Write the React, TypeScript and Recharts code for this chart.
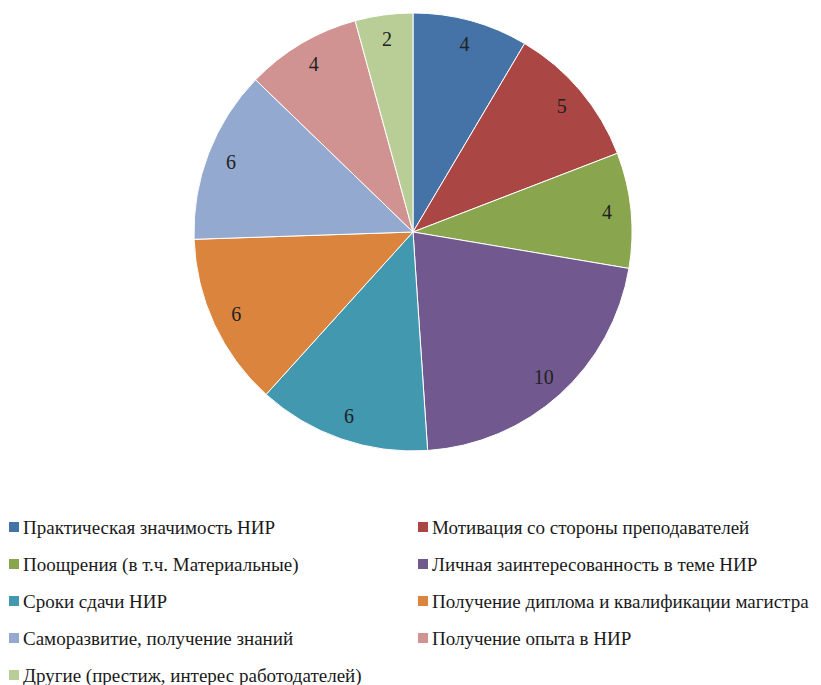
import { PieChart, Pie, Cell, Legend } from 'recharts'

const CATEGORIES = [
  'Практическая значимость НИР',
  'Мотивация со стороны преподавателей',
  'Поощрения (в т.ч. Материальные)',
  'Личная заинтересованность в теме НИР',
  'Сроки сдачи НИР',
  'Получение диплома и квалификации магистра',
  'Саморазвитие, получение знаний',
  'Получение опыта в НИР',
  'Другие (престиж, интерес работодателей)',
]

const VALUES = [4, 5, 4, 10, 6, 6, 6, 4, 2]

const COLORS = [
  '#4572A7',
  '#AA4643',
  '#89A54E',
  '#71588F',
  '#4198AF',
  '#DB843D',
  '#93A9CF',
  '#D19392',
  '#B9CD96',
]

const data = CATEGORIES.map((name, i) => ({ name, value: VALUES[i] }))

const RADIAN = Math.PI / 180
const FONT = '"Liberation Serif", serif'

function renderLabel(props: any) {
  const { cx, cy, midAngle, outerRadius, value } = props
  const r = outerRadius * 0.89
  const x = cx + r * Math.cos(-midAngle * RADIAN)
  const y = cy + r * Math.sin(-midAngle * RADIAN)
  return (
    <text
      x={x}
      y={y}
      textAnchor="middle"
      dominantBaseline="central"
      fill="#222"
      fontFamily={FONT}
      fontSize={20}
    >
      {value}
    </text>
  )
}

function LegendGrid() {
  return (
    <div
      style={{
        display: 'grid',
        gridTemplateColumns: '409px 403px',
        fontFamily: FONT,
        fontSize: 19,
        color: '#1a1a1a',
      }}
    >
      {data.map((d, i) => (
        <div
          key={d.name}
          style={{ display: 'flex', alignItems: 'center', height: 37, whiteSpace: 'nowrap' }}
        >
          <span
            style={{
              display: 'inline-block',
              flex: '0 0 auto',
              width: 10,
              height: 10,
              background: COLORS[i],
              marginRight: 4,
              marginTop: -2,
            }}
          />
          {d.name}
        </div>
      ))}
    </div>
  )
}

export default function App() {
  return (
    <PieChart width={813} height={677} margin={{ top: 0, right: 0, bottom: 0, left: 0 }}>
      <Pie
        data={data}
        dataKey="value"
        nameKey="name"
        cx={405}
        cy={224}
        outerRadius={219}
        startAngle={90}
        endAngle={-270}
        stroke="#fff"
        strokeWidth={1}
        label={renderLabel}
        labelLine={false}
        isAnimationActive={false}
      >
        {data.map((d, i) => (
          <Cell key={d.name} fill={COLORS[i]} />
        ))}
      </Pie>
      <Legend
        content={<LegendGrid />}
        wrapperStyle={{ position: 'absolute', top: 501, left: 1, width: 812 }}
      />
    </PieChart>
  )
}
